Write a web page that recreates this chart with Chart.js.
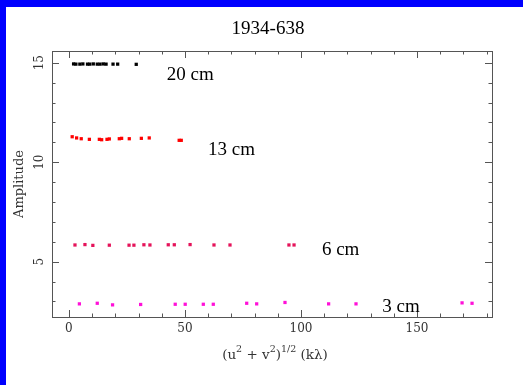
<!DOCTYPE html>
<html>
<head>
<meta charset="utf-8">
<script src="https://cdn.jsdelivr.net/npm/chart.js@4.4.1/dist/chart.umd.min.js"></script>
<style>
  html, body { margin: 0; padding: 0; background: #fff; }
  #wrap { width: 523px; height: 385px; }
</style>
</head>
<body>
<div id="wrap"><canvas id="amp"></canvas></div>
<script>
// uv-distance (kλ) and amplitude for each band
const x20 = [2, 3, 4.7, 6, 8, 9, 10.5, 12.2, 13.4, 14.8, 16, 19, 21, 29];
const y20 = [14.94, 14.93, 14.93, 14.94, 14.93, 14.93, 14.94, 14.93, 14.93, 14.94, 14.93, 14.93, 14.93, 14.92];

const x13 = [1.4, 3.3, 5.3, 8.8, 13.1, 14.1, 16.4, 17.4, 21.7, 22.7, 26, 31.2, 34.6, 47.5, 48.4];
const y13 = [11.28, 11.22, 11.18, 11.15, 11.15, 11.13, 11.15, 11.17, 11.18, 11.2, 11.18, 11.2, 11.22, 11.1, 11.1];

const x6 = [2.6, 6.9, 10.3, 17.4, 25.9, 28, 32.3, 34.9, 42.8, 45.4, 52.2, 62.5, 69.4, 94.8, 97];
const y6 = [5.84, 5.86, 5.82, 5.83, 5.83, 5.83, 5.85, 5.84, 5.85, 5.85, 5.86, 5.84, 5.84, 5.84, 5.84];

const x3 = [4.5, 12.2, 18.8, 30.9, 45.8, 50.1, 57.9, 62.2, 76.6, 80.9, 93.1, 111.9, 123.7, 169.4, 173.7];
const y3 = [2.88, 2.91, 2.83, 2.85, 2.86, 2.86, 2.86, 2.86, 2.91, 2.88, 2.95, 2.88, 2.88, 2.93, 2.91];

const bandNames = ["20 cm", "13 cm", "6 cm", "3 cm"];
const bandColors = ["#000000", "#ff0000", "#e5135a", "#ff10d8"];

const xTicks = [0, 50, 100, 150];
const yTicks = [5, 10, 15];

const title = "1934-638";

// where each band name sits, in data units
const bandLabelAt = [[42.2, 14.38], [59.9, 10.61], [109, 5.59], [135, 2.72]];

const zip = (xs, ys) => xs.map((x, i) => ({ x, y: ys[i] }));
const series = [zip(x20, y20), zip(x13, y13), zip(x6, y6), zip(x3, y3)];

/* ── frame, ticks, labels and page border ── */
const decorPlugin = {
  id: "decor",
  beforeDraw(chart) {
    const ctx = chart.ctx;
    ctx.save();
    ctx.fillStyle = "#fff";
    ctx.fillRect(0, 0, chart.width, chart.height);
    ctx.fillStyle = "#0000ff";
    ctx.fillRect(0, 0, chart.width, 7);
    ctx.fillRect(0, 0, 6, chart.height);
    ctx.restore();
  },
  afterDraw(chart) {
    const ctx = chart.ctx;
    const { left, right, top, bottom } = chart.chartArea;
    const xs = chart.scales.x;
    const ys = chart.scales.y;
    ctx.save();

    // box
    ctx.strokeStyle = "#555";
    ctx.lineWidth = 1;
    ctx.strokeRect(left + 0.5, top + 0.5, right - left, bottom - top);

    // inward ticks on all four sides
    ctx.beginPath();
    for (let v = -10; v <= 190; v += 10) {
      if (v < xs.min || v > xs.max) continue;
      const px = Math.round(xs.getPixelForValue(v)) + 0.5;
      const len = v % 50 === 0 ? 7 : 3.5;
      ctx.moveTo(px, bottom); ctx.lineTo(px, bottom - len);
      ctx.moveTo(px, top); ctx.lineTo(px, top + len);
    }
    for (let v = 2; v <= 16; v += 1) {
      if (v < ys.min || v > ys.max) continue;
      const py = Math.round(ys.getPixelForValue(v)) + 0.5;
      const len = v % 5 === 0 ? 7 : 3.5;
      ctx.moveTo(left, py); ctx.lineTo(left + len, py);
      ctx.moveTo(right, py); ctx.lineTo(right - len, py);
    }
    ctx.stroke();

    // tick labels
    ctx.fillStyle = "#333";
    ctx.font = "12px 'DejaVu Serif'";
    ctx.textAlign = "center";
    ctx.textBaseline = "middle";
    xTicks.forEach(v => ctx.fillText(String(v), xs.getPixelForValue(v), bottom + 12));
    yTicks.forEach(v => {
      ctx.save();
      ctx.translate(left - 12, ys.getPixelForValue(v));
      ctx.rotate(-Math.PI / 2);
      ctx.fillText(String(v), 0, 0);
      ctx.restore();
    });

    // y title
    ctx.save();
    ctx.font = "13px 'DejaVu Serif'";
    ctx.translate(20, (top + bottom) / 2);
    ctx.rotate(-Math.PI / 2);
    ctx.fillText("Amplitude", 0, 0);
    ctx.restore();

    // x title with superscripts
    const parts = [["(u", 0], ["2", 1], [" + v", 0], ["2", 1], [")", 0], ["1/2", 1], [" (kλ)", 0]];
    const big = "13.5px 'DejaVu Serif'";
    const small = "9.5px 'DejaVu Serif'";
    let w = 0;
    parts.forEach(([t, sup]) => { ctx.font = sup ? small : big; w += ctx.measureText(t).width; });
    let cx = (left + right) / 2 + 3 - w / 2;
    ctx.textAlign = "left";
    parts.forEach(([t, sup]) => {
      ctx.font = sup ? small : big;
      ctx.fillText(t, cx, sup ? 350 : 355);
      cx += ctx.measureText(t).width;
    });

    // title
    ctx.fillStyle = "#000";
    ctx.font = "19px 'Liberation Serif'";
    ctx.textAlign = "center";
    ctx.fillText(title, 268, 29);

    // band names
    ctx.textAlign = "left";
    bandNames.forEach((name, i) => {
      const [vx, vy] = bandLabelAt[i];
      ctx.fillText(name, xs.getPixelForValue(vx), ys.getPixelForValue(vy));
    });

    ctx.restore();
  }
};

new Chart(document.getElementById("amp"), {
  type: "scatter",
  data: {
    datasets: series.map((pts, i) => ({
      label: bandNames[i],
      data: pts,
      pointStyle: "rect",
      pointRadius: 2.3,
      pointBorderWidth: 0,
      backgroundColor: bandColors[i],
      borderColor: bandColors[i],
    })),
  },
  options: {
    responsive: true,
    maintainAspectRatio: false,
    animation: false,
    layout: { padding: { left: 52, top: 51, right: 31, bottom: 68 } },
    plugins: {
      legend: { display: false },
      tooltip: { enabled: false },
    },
    scales: {
      x: { type: "linear", min: -7.3, max: 182.3, display: false },
      y: { type: "linear", min: 2.22, max: 15.59, display: false },
    },
  },
  plugins: [decorPlugin],
});
</script>
</body>
</html>
